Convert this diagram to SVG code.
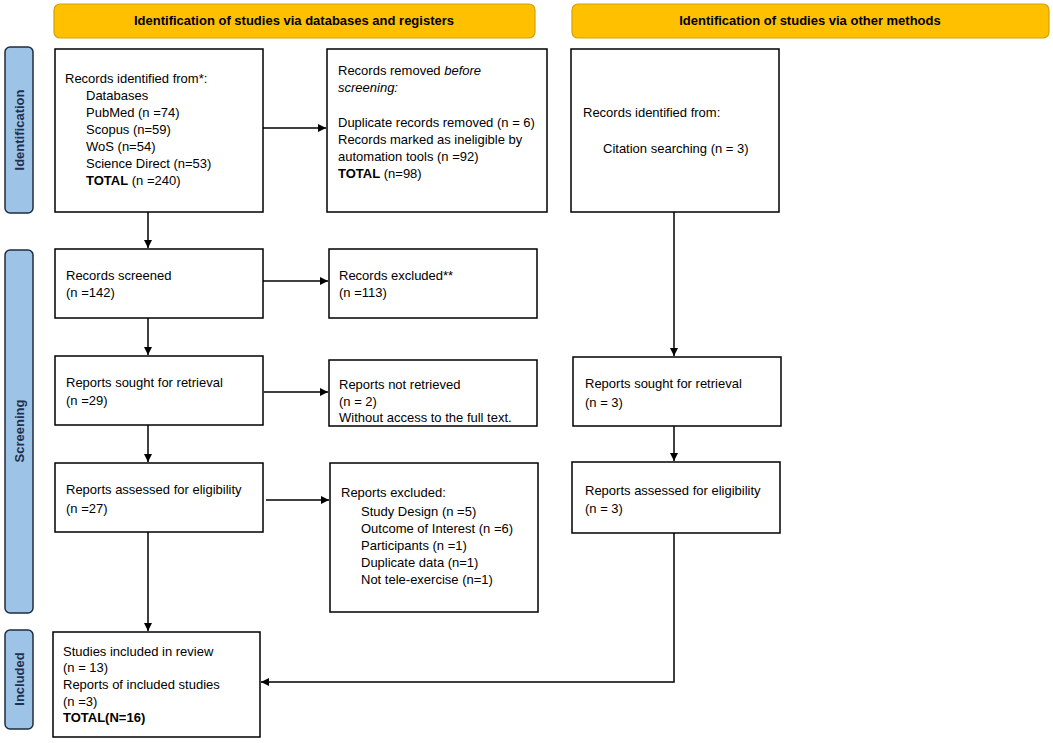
<svg xmlns="http://www.w3.org/2000/svg" width="1053" height="743" viewBox="0 0 1053 743">
<style>
.box{fill:#fff;stroke:#000;stroke-width:1.5}
.hdr{fill:#FFC000;stroke:#D4A200;stroke-width:1.2}
.side{fill:#9DC3E6;stroke:#1F2D3D;stroke-width:1.5}
text{font-family:"Liberation Sans",Arial,sans-serif;font-size:13px;fill:#000}
.b{font-weight:bold}
.ht{font-weight:bold;font-size:13px;text-anchor:middle}
.st{font-weight:bold;font-size:13px;text-anchor:middle;fill:#1F3050}
.ln{fill:none;stroke:#000;stroke-width:1.5}
</style>
<defs>
<marker id="ah" viewBox="0 0 10 10" refX="10" refY="5" markerWidth="8" markerHeight="8" markerUnits="userSpaceOnUse" orient="auto">
<path d="M0,0 L10,5 L0,10 z" fill="#000"/>
</marker>
</defs>
<rect width="1053" height="743" fill="#fff"/>
<g id="header-databases"><rect class="hdr" x="54" y="4" width="481" height="34" rx="6"/><text class="ht" x="294" y="25">Identification of studies via databases and registers</text></g>
<g id="header-other"><rect class="hdr" x="572" y="4" width="477" height="34" rx="6"/><text class="ht" x="810" y="25">Identification of studies via other methods</text></g>
<g id="side-identification"><rect class="side" x="5" y="47" width="28" height="166" rx="5"/><text class="st" transform="translate(23.5,130) rotate(-90)">Identification</text></g>
<g id="side-screening"><rect class="side" x="5" y="250" width="28" height="363" rx="5"/><text class="st" transform="translate(23.5,431) rotate(-90)">Screening</text></g>
<g id="side-included"><rect class="side" x="5" y="630" width="28" height="99" rx="5"/><text class="st" transform="translate(23.5,679) rotate(-90)">Included</text></g>
<g id="records-identified"><rect class="box" x="55" y="49" width="208" height="163"/>
<text x="65" y="83">Records identified from*:</text>
<text x="86" y="100">Databases</text>
<text x="86" y="117">PubMed (n =74)</text>
<text x="86" y="134">Scopus (n=59)</text>
<text x="86" y="151">WoS (n=54)</text>
<text x="86" y="168">Science Direct (n=53)</text>
<text x="86" y="185"><tspan class="b">TOTAL</tspan> (n =240)</text></g>
<g id="records-removed"><rect class="box" x="327" y="49" width="220" height="163"/>
<text x="338" y="75">Records removed <tspan font-style="italic">before</tspan></text>
<text x="338" y="92" font-style="italic">screening:</text>
<text x="338" y="127">Duplicate records removed (n = 6)</text>
<text x="338" y="144">Records marked as ineligible by</text>
<text x="338" y="161">automation tools (n =92)</text>
<text x="338" y="178"><tspan class="b">TOTAL</tspan> (n=98)</text></g>
<g id="records-other"><rect class="box" x="571" y="49" width="208" height="163"/>
<text x="583" y="117">Records identified from:</text>
<text x="603" y="153">Citation searching (n = 3)</text></g>
<g id="records-screened"><rect class="box" x="55" y="249" width="208" height="69"/>
<text x="66" y="280">Records screened</text>
<text x="66" y="297">(n =142)</text></g>
<g id="records-excluded"><rect class="box" x="329" y="249" width="208" height="69"/>
<text x="339" y="280">Records excluded**</text>
<text x="339" y="297">(n =113)</text></g>
<g id="reports-sought"><rect class="box" x="55" y="356" width="208" height="69"/>
<text x="66" y="387">Reports sought for retrieval</text>
<text x="66" y="405">(n =29)</text></g>
<g id="reports-not-retrieved"><rect class="box" x="329" y="360" width="208" height="66"/>
<text x="339" y="389">Reports not retrieved</text>
<text x="339" y="406">(n = 2)</text>
<text x="339" y="422">Without access to the full text.</text></g>
<g id="reports-sought-other"><rect class="box" x="573" y="357" width="208" height="69"/>
<text x="585" y="388">Reports sought for retrieval</text>
<text x="585" y="407">(n = 3)</text></g>
<g id="reports-assessed"><rect class="box" x="55" y="463" width="208" height="69"/>
<text x="66" y="494">Reports assessed for eligibility</text>
<text x="66" y="513">(n =27)</text></g>
<g id="reports-excluded"><rect class="box" x="330" y="463" width="208" height="149"/>
<text x="341" y="497">Reports excluded:</text>
<text x="361" y="516">Study Design (n =5)</text>
<text x="361" y="533">Outcome of Interest (n =6)</text>
<text x="361" y="550">Participants (n =1)</text>
<text x="361" y="567">Duplicate data (n=1)</text>
<text x="361" y="584">Not tele-exercise (n=1)</text></g>
<g id="reports-assessed-other"><rect class="box" x="572" y="462" width="208" height="71"/>
<text x="585" y="495">Reports assessed for eligibility</text>
<text x="585" y="513">(n = 3)</text></g>
<g id="studies-included"><rect class="box" x="53" y="632" width="207" height="105"/>
<text x="63" y="656">Studies included in review</text>
<text x="63" y="672">(n = 13)</text>
<text x="63" y="689">Reports of included studies</text>
<text x="63" y="706">(n =3)</text>
<text x="63" y="722" class="b">TOTAL(N=16)</text></g>
<g id="connectors">
<line class="ln" x1="263" y1="128" x2="326" y2="128" marker-end="url(#ah)"/>
<line class="ln" x1="148" y1="212" x2="148" y2="248" marker-end="url(#ah)"/>
<line class="ln" x1="263" y1="281" x2="328" y2="281" marker-end="url(#ah)"/>
<line class="ln" x1="148" y1="318" x2="148" y2="355" marker-end="url(#ah)"/>
<line class="ln" x1="264" y1="392" x2="328" y2="392" marker-end="url(#ah)"/>
<line class="ln" x1="148" y1="425" x2="148" y2="462" marker-end="url(#ah)"/>
<line class="ln" x1="266" y1="500" x2="329" y2="500" marker-end="url(#ah)"/>
<line class="ln" x1="148" y1="532" x2="148" y2="631" marker-end="url(#ah)"/>
<line class="ln" x1="674" y1="212" x2="674" y2="356" marker-end="url(#ah)"/>
<line class="ln" x1="674" y1="426" x2="674" y2="461" marker-end="url(#ah)"/>
<polyline class="ln" points="674,533 674,682 261,682" marker-end="url(#ah)"/>
</g>
</svg>
